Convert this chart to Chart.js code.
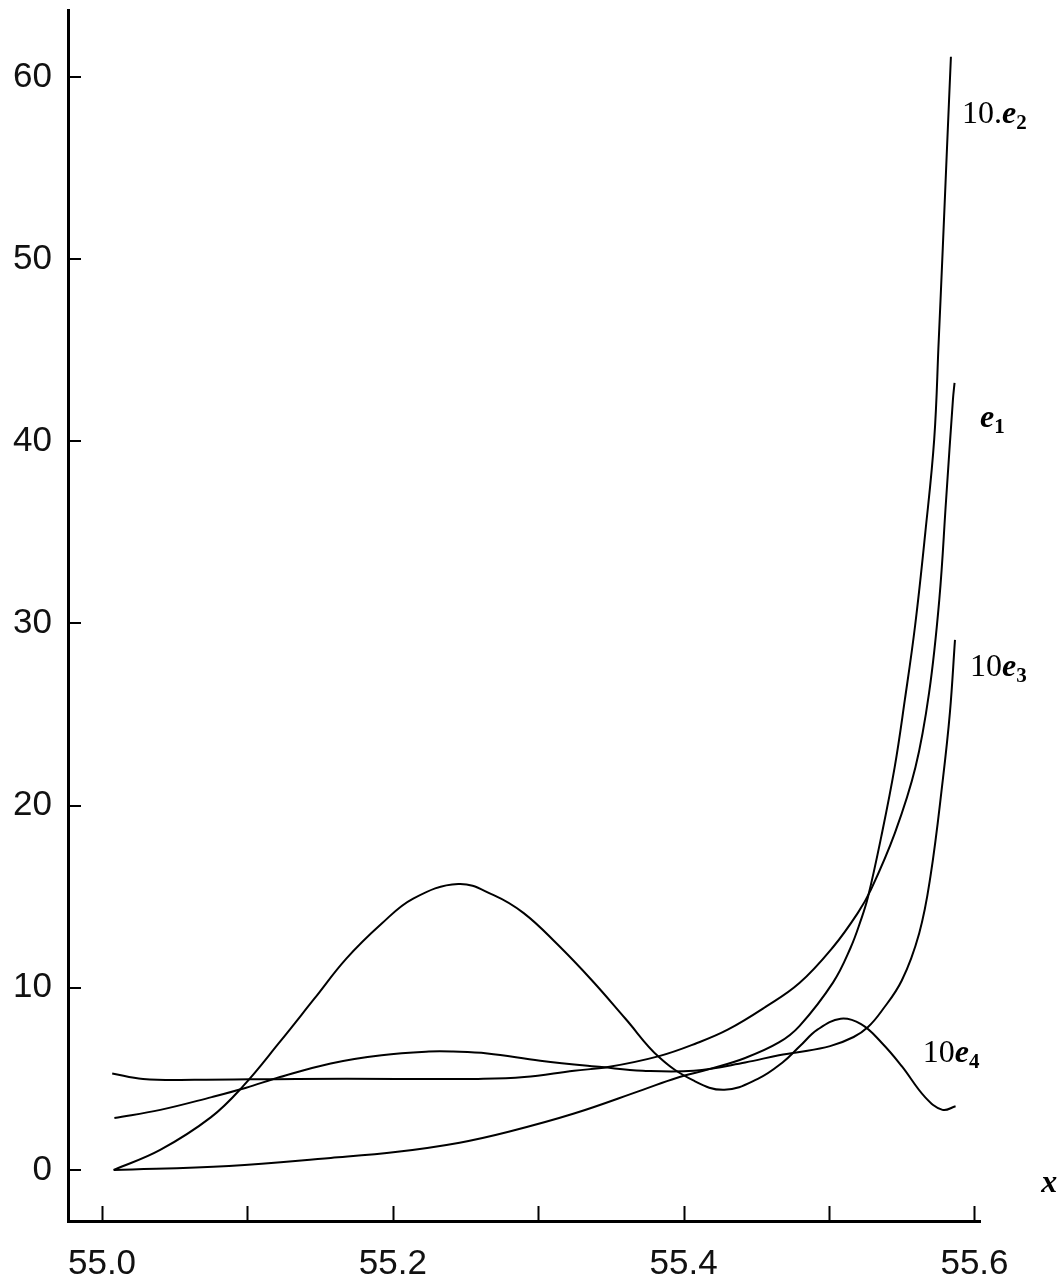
<!DOCTYPE html>
<html>
<head>
<meta charset="utf-8">
<script src="https://cdn.jsdelivr.net/npm/chart.js@4.4.1/dist/chart.umd.min.js"></script>
<style>
  body { margin: 0; background: #fff; }
  canvas { display: block; }
</style>
</head>
<body>
<canvas id="chart" width="1062" height="1278"></canvas>
<script>
// axis ticks
var xTicks = [55.0, 55.1, 55.2, 55.3, 55.4, 55.5, 55.6];
var xTickLabels = ['55.0', '', '55.2', '', '55.4', '', '55.6'];
var yTicks = [0, 10, 20, 30, 40, 50, 60];

// e1 (starts near 5, ends at ~43)
var e1X = [55.0070, 55.0282, 55.0634, 55.1336, 55.2032, 55.2586, 55.2904, 55.3246, 55.3479, 55.3831, 55.4092, 55.4303,
           55.4563, 55.4796, 55.5028, 55.5197, 55.5289, 55.5453, 55.5594, 55.5688, 55.5758, 55.5805, 55.5852, 55.5863];
var e1Y = [5.3, 5.0, 4.95, 5.0, 5.0, 5.0, 5.1, 5.45, 5.65, 6.25, 6.97, 7.7,
           8.95, 10.26, 12.24, 14.1, 15.4, 18.5, 22.1, 26.2, 31.3, 36.8, 42.3, 43.2];

// 10.e2 (starts at 0, ends at ~61)
var e2X = [55.0080, 55.0873, 55.1573, 55.2032, 55.2459, 55.2796, 55.3246, 55.3718, 55.3951, 55.4183, 55.4423, 55.4655,
           55.4796, 55.5028, 55.5148, 55.5218, 55.5268, 55.5359, 55.5451, 55.5521, 55.5592, 55.5662, 55.5723, 55.5754,
           55.5782, 55.5810, 55.5838];
var e2Y = [0, 0.22, 0.66, 1.0, 1.5, 2.1, 3.1, 4.4, 5.05, 5.55, 6.15, 7.0,
           7.9, 10.3, 12.2, 13.7, 15.0, 18.3, 22.1, 25.8, 29.9, 35.0, 40.1, 45.5,
           50.6, 55.9, 61.1];

// 10e3
var e3X = [55.0085, 55.0401, 55.0754, 55.0986, 55.1224, 55.1573, 55.1923, 55.2248, 55.2414, 55.2650, 55.3014, 55.3437,
           55.3718, 55.4070, 55.4423, 55.4655, 55.4775, 55.5007, 55.5169, 55.5268, 55.5359, 55.5500, 55.5620, 55.5697,
           55.5782, 55.5831, 55.5866];
var e3Y = [2.85, 3.3, 4.0, 4.5, 5.1, 5.85, 6.3, 6.5, 6.5, 6.4, 6.0, 5.65,
           5.45, 5.45, 5.9, 6.3, 6.45, 6.8, 7.3, 7.85, 8.7, 10.4, 13.0, 16.1,
           21.4, 25.1, 29.1];

// 10e4
var e4X = [55.008, 55.040, 55.075, 55.097, 55.122, 55.146, 55.168, 55.192, 55.214, 55.245, 55.269, 55.290,
           55.313, 55.337, 55.360, 55.383, 55.407, 55.428, 55.451, 55.468, 55.480, 55.492, 55.508, 55.522,
           55.536, 55.550, 55.566, 55.578, 55.587];
var e4Y = [0, 1.1, 2.9, 4.6, 7.0, 9.4, 11.6, 13.5, 14.9, 15.7, 15.1, 14.1,
           12.4, 10.4, 8.3, 6.2, 4.9, 4.4, 5.0, 5.9, 6.8, 7.7, 8.3, 8.0,
           7.0, 5.7, 4.0, 3.3, 3.5];

function toPoints(xs, ys) {
    return xs.map(function (x, i) { return { x: x, y: ys[i] }; });
}

function curve(label, xs, ys) {
    return {
        label: label,
        data: toPoints(xs, ys),
        showLine: true,
        borderColor: '#000',
        borderWidth: 2,
        pointRadius: 0,
        fill: false,
        tension: 0.4
    };
}

// write a label made of several pieces (normal, italic, subscript)
function drawPieces(ctx, x, y, pieces) {
    pieces.forEach(function (p) {
        ctx.font = p.font;
        ctx.fillText(p.text, x, y + (p.dy || 0));
        x += ctx.measureText(p.text).width;
    });
}

var serif = '"Liberation Serif", "DejaVu Serif", serif';
var roman = '32px ' + serif;
var ital = 'italic bold 32px ' + serif;
var sub = 'bold 21px ' + serif;

// inward tick marks and the curve names
var extras = {
    id: 'extras',
    afterDraw: function (chart) {
        var ctx = chart.ctx;
        var xs = chart.scales.x, ys = chart.scales.y, area = chart.chartArea;
        ctx.save();
        ctx.strokeStyle = '#000';
        ctx.lineWidth = 2;
        ctx.beginPath();
        xTicks.forEach(function (v) {
            var px = Math.round(xs.getPixelForValue(v)) + 0.5;
            ctx.moveTo(px, area.bottom);
            ctx.lineTo(px, area.bottom - 15);
        });
        yTicks.forEach(function (v) {
            var py = Math.round(ys.getPixelForValue(v));
            ctx.moveTo(area.left, py);
            ctx.lineTo(area.left + 13, py);
        });
        ctx.stroke();

        ctx.fillStyle = '#000';
        ctx.textBaseline = 'alphabetic';
        ctx.textAlign = 'left';
        var at = function (vx, vy) { return [xs.getPixelForValue(vx), ys.getPixelForValue(vy)]; };
        var p;
        p = at(55.5914, 57.46);
        drawPieces(ctx, p[0], p[1], [{ text: '10.', font: roman }, { text: 'e', font: ital }, { text: '2', font: sub, dy: 6 }]);
        p = at(55.6038, 40.78);
        drawPieces(ctx, p[0], p[1], [{ text: 'e', font: ital }, { text: '1', font: sub, dy: 6 }]);
        p = at(55.5969, 27.11);
        drawPieces(ctx, p[0], p[1], [{ text: '10', font: roman }, { text: 'e', font: ital }, { text: '3', font: sub, dy: 6 }]);
        p = at(55.5645, 5.93);
        drawPieces(ctx, p[0], p[1], [{ text: '10', font: roman }, { text: 'e', font: ital }, { text: '4', font: sub, dy: 6 }]);
        p = at(55.646, -1.21);
        drawPieces(ctx, p[0], p[1], [{ text: 'x', font: 'italic bold 32px ' + serif }]);
        ctx.restore();
    }
};

var tickFont = { family: '"Liberation Sans", Arial, sans-serif', size: 35, weight: 'normal' };

var config = {
    type: 'scatter',
    data: {
        datasets: [
            curve('e1', e1X, e1Y),
            curve('10.e2', e2X, e2Y),
            curve('10e3', e3X, e3Y),
            curve('10e4', e4X, e4Y)
        ]
    },
    options: {
        responsive: false,
        animation: false,
        devicePixelRatio: 1,
        layout: { padding: { top: 10, right: 82, left: 0, bottom: 0 } },
        plugins: { legend: { display: false }, tooltip: { enabled: false } },
        scales: {
            x: {
                type: 'linear',
                min: 54.9766,
                max: 55.6038,
                grid: { display: false, drawTicks: false },
                border: { display: true, color: '#000', width: 3 },
                afterBuildTicks: function (s) { s.ticks = xTicks.map(function (v) { return { value: v }; }); },
                afterFit: function (s) { s.height = 57; s.paddingLeft = 0; s.paddingRight = 0; },
                ticks: {
                    autoSkip: false,
                    maxRotation: 0,
                    padding: 22,
                    color: '#111',
                    font: tickFont,
                    callback: function (v) { return xTickLabels[xTicks.indexOf(Math.round(v * 10) / 10)]; }
                }
            },
            y: {
                type: 'linear',
                min: -2.8,
                max: 63.67,
                grid: { display: false, drawTicks: false },
                border: { display: true, color: '#000', width: 3 },
                afterBuildTicks: function (s) { s.ticks = yTicks.map(function (v) { return { value: v }; }); },
                afterFit: function (s) { s.width = 68; s.paddingTop = 0; s.paddingBottom = 0; },
                ticks: {
                    padding: 16,
                    color: '#111',
                    font: tickFont,
                    callback: function (v) { return String(v); }
                }
            }
        }
    },
    plugins: [extras]
};

var ctx = document.getElementById('chart').getContext('2d');
window.myChart = new Chart(ctx, config);
</script>
</body>
</html>
